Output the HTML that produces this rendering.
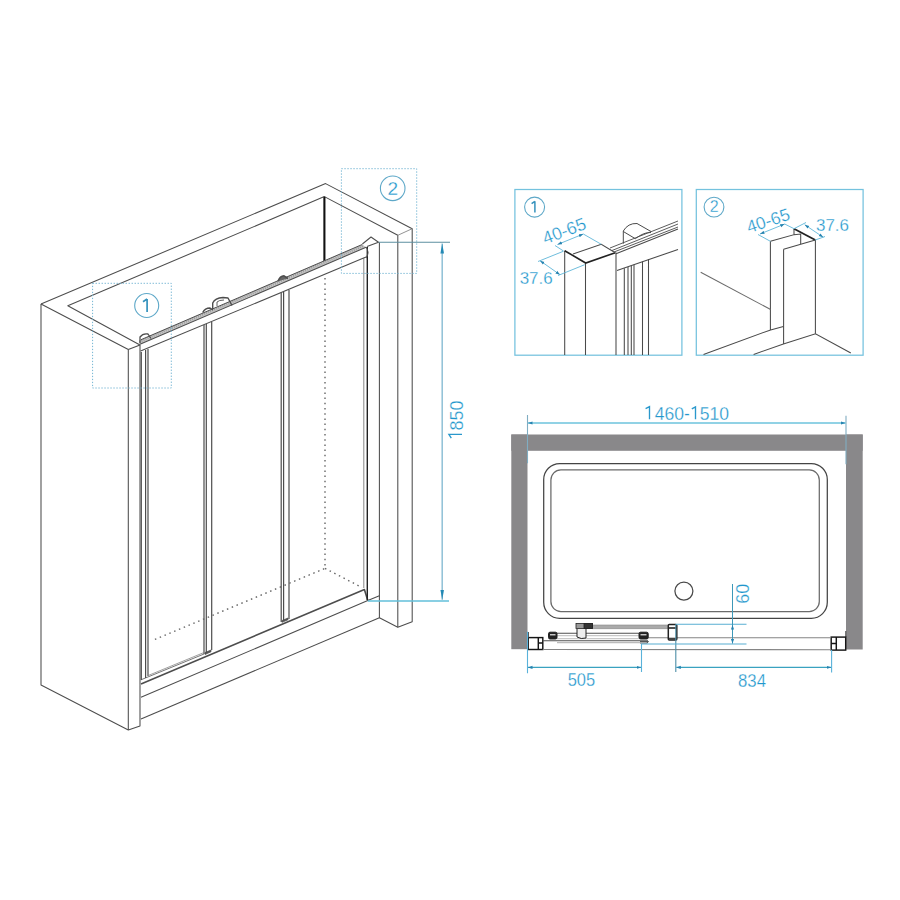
<!DOCTYPE html>
<html><head><meta charset="utf-8">
<style>
html,body{margin:0;padding:0;background:#fff;width:900px;height:900px;overflow:hidden}
svg{display:block}
text{font-family:"Liberation Sans",sans-serif;fill:#2196cc;stroke:#fff;stroke-width:0.28}
</style></head><body>
<svg width="900" height="900" viewBox="0 0 900 900">
<defs>
<marker id="ar" viewBox="0 0 10 10" refX="10" refY="5" markerWidth="10" markerHeight="10" markerUnits="userSpaceOnUse" orient="auto-start-reverse"><path d="M0,3.2 L10,5 L0,6.8 z" fill="#2389b5"/></marker>
<marker id="as" viewBox="0 0 10 10" refX="10" refY="5" markerWidth="4.5" markerHeight="4.5" markerUnits="userSpaceOnUse" orient="auto-start-reverse"><path d="M0,1.5 L10,5 L0,8.5 z" fill="#2683b0"/></marker>
</defs>

<!-- ========== 3D enclosure ========== -->
<g fill="none" stroke="#4d4d4d" stroke-width="1.05" stroke-linejoin="round">
  <!-- left wall -->
  <path d="M41,304 L41,685 L128.3,730 L140,726 L140,345"/>
  <path d="M41,304 L128.3,349.5 L128.3,730"/>
  <path d="M128.3,349.5 L140,345"/>
  <!-- top outer -->
  <path d="M41,304 L325.6,183.6 L412.2,228.7 L412.2,621.8 L397.8,627.2 L397.8,235.3"/>
  <path d="M397.8,235.3 L412.2,228.7" stroke-width="0.8" stroke="#777"/>
  <!-- inner top -->
  <path d="M140,345 L67.8,305.8 L324.4,196.6 L397.8,235.3"/>
  <path d="M324.4,196.8 L324.4,262.5" stroke="#111" stroke-width="2.1"/>
  <!-- right wall inner face -->
  <path d="M379.4,242.3 L379.4,617.8 L397.8,627.2"/>
  <!-- tray -->
  <path d="M141,718.9 L379.4,617.8"/>
  <path d="M141,697.2 L367.8,600.6 L379.4,595.8"/>
  <path d="M141,684 L364.4,589.5 L367.8,600.6" stroke-width="1.6"/>
  <path d="M141,679.8 L204,654" stroke-width="0.9" stroke="#666"/>
  <!-- door profiles -->
  <path d="M141.3,352 L141.3,680 M145.6,350 L145.6,678 M148,349 L148,676" stroke-width="1.2"/>
  <path d="M204,325 L204,654 M206.3,324 L206.3,653 M211.7,322 L211.7,650" stroke-width="1.2"/>
  <path d="M281.2,293 L281.2,622 M283.6,292 L283.6,621 M289,290 L289,619" stroke-width="1.2"/>
  <path d="M363.8,258 L363.8,588" stroke-width="1" stroke="#888"/>
  <path d="M367.3,247 L367.3,600" stroke-width="1.4" stroke="#222"/>
  <!-- panel bottoms -->
  <path d="M148,675.6 L204,652.5" stroke-width="0.8" stroke="#888"/>
  <path d="M205,654.5 L205,652.5 L211,650 L211,651.8 Z M282,622.3 L282,620.5 L288,618 L288,619.8 Z" fill="#555" stroke-width="0.7"/>
  <!-- rail -->
  <path d="M139,340.5 L362.2,244.5 L366.1,247.2 L139.4,344.5 Z" fill="#c4c4c4" stroke="none"/>
  <path d="M139.5,341.8 L364,245.5" stroke-width="2.2" stroke="#999" stroke-dasharray="0.8,1.4"/>
  <path d="M139.4,344.5 L366.1,247.2"/>
  <path d="M140.6,351.1 L366,257.1"/>
  <path d="M141,339.7 L362.2,244.5" stroke-width="1"/>
  <path d="M366,247 Q370,252 366,258" />
  <path d="M362.4,244 L371,237 L378.5,242.3 L367,246.5" />
  <!-- rollers -->
  <path d="M140,343 L140,337 Q143,333 148,334 L151,338.5" stroke-width="1.3"/>
  <path d="M202.7,312.5 Q205,308 210,308 L213,310" stroke-width="1.5"/>
  <path d="M212.7,309 L212.7,303 Q215,298 223,297.5 L228,298 L232,305.5" stroke-width="1.4"/>
  <path d="M217,306 L217,302 Q219,300 224,300" stroke-width="0.9"/>
  <path d="M278,281.3 Q280,276 284,275.8 L288,278.5" stroke-width="1.6" fill="#666"/>
  <!-- dotted back -->
  <path d="M325,278 L325,568.4 L152,640.6 M325,568.4 L362,587.5" stroke="#666" stroke-width="1.4" stroke-dasharray="1.5,3.7"/>
</g>

<!-- dotted blue boxes -->
<g fill="none" stroke="#72b4d2" stroke-width="1" stroke-dasharray="1.3,1.7">
  <rect x="92.6" y="283.3" width="78.7" height="104.7"/>
  <rect x="341.4" y="168.7" width="75.3" height="104.7"/>
</g>
<g fill="none" stroke="#5ea8c8" stroke-width="1.1">
  <circle cx="146.7" cy="305.5" r="12"/>
  <circle cx="392.7" cy="188.3" r="12.3"/>
  <path d="M147.1,299 L147.1,312 M143,301.8 L147.1,299" stroke="#3592bd" stroke-width="1.7"/>
</g>
<text x="392.7" y="195.3" font-size="19" text-anchor="middle">2</text>

<!-- 1850 dim -->
<g fill="none" stroke-width="1.1">
  <path d="M378.8,242.3 L450,242.3" stroke="#5d8fa0"/>
  <path d="M367.8,601 L449,601" stroke="#62bfda" stroke-width="1.35"/>
  <path d="M442.2,243.5 L442.2,599.8" stroke="#8fc0d6" stroke-width="1.5" marker-start="url(#ar)" marker-end="url(#ar)"/>
</g>
<path d="M462,434.4 L448.9,434.4 L451.3,438.2" fill="none" stroke="#2a98cc" stroke-width="1.35"/>
<text id="t1850" transform="translate(463,420.5) rotate(-90)" font-size="18" text-anchor="middle">&#x2007;850</text>

<!-- ========== detail box 1 ========== -->
<rect x="514.9" y="189.5" width="167" height="165.7" fill="none" stroke="#74c2de" stroke-width="1.25"/>
<circle cx="534.6" cy="207.1" r="10" fill="none" stroke="#5ea8c8" stroke-width="1.1"/>
<path d="M534.9,201.3 L534.9,212.6 M531.6,203.6 L534.9,201.3" fill="none" stroke="#3592bd" stroke-width="1.5"/>
<g fill="none" stroke="#4a4a4a" stroke-width="1.05">
  <path d="M564.7,250.7 L564.7,355 M585.5,262.7 L585.5,355 M616,252.5 L616,355"/>
  <path d="M564.7,250.7 L585.7,263 L615.3,252.7" stroke-width="1.6" stroke="#222"/>
  <path d="M573,254 L601.3,244.3 L615.3,252.7"/>
  <path d="M616,253.7 L678,229 M617,270.5 L678,249.5"/>
  <path d="M610,248 L678,221 M612,250.5 L678,224 M614,252 L678,227" stroke-width="0.9"/>
  <path d="M623.3,243.7 L623.3,231 Q628,223 637,223.5 L651,231.5 M623.3,231.5 L635.3,238.7 Q644,232 651,232.5" stroke-width="1"/>
    <path d="M624.3,268.3 L624.3,355 M628,267 L628,355 M631.3,265.8 L631.3,355 M634,264.8 L634,355 M642.5,261.5 L642.5,355 M648.5,259 L648.5,355"/>
</g>
<g fill="none" stroke="#5fb6d8" stroke-width="0.9">
  <path d="M557.5,244.5 L583.3,234" marker-start="url(#as)" marker-end="url(#as)"/>
  <path d="M555,245.5 L563.5,251 M583.3,234 L601.3,244.3"/>
  <path d="M540,260.7 L560,274.7" marker-start="url(#as)" marker-end="url(#as)"/>
  <path d="M538,261.5 L563.3,251.3 M558,275.5 L584.7,264.7"/>
</g>
<text transform="translate(566.3,236.5) rotate(-20.5)" font-size="17.6" text-anchor="middle">40-65</text>
<text x="536.2" y="284.3" font-size="17" text-anchor="middle">37.6</text>

<!-- ========== detail box 2 ========== -->
<rect x="696.3" y="189.5" width="166.8" height="165.7" fill="none" stroke="#74c2de" stroke-width="1.25"/>
<circle cx="714" cy="207.1" r="9.9" fill="none" stroke="#5ea8c8" stroke-width="1.1"/>
<text x="714.3" y="212.3" font-size="16" text-anchor="middle">2</text>
<g fill="none" stroke="#4a4a4a" stroke-width="1.05">
  <path d="M770.4,241.3 L770.4,329.9 M815.4,240 L815.4,333.7 M783.6,249.3 L783.6,344"/>
  <path d="M770.4,241.3 L794,234.7 L794,228.7 M794,234.7 L800.7,234 L800.7,244"/>
  <path d="M794,228.7 L815.3,240" stroke-width="1.8" stroke="#222"/>
  <path d="M783.6,249.3 L815.3,240"/>
  <path d="M700.7,272.3 L770.6,309.5" stroke="#6a6a6a"/>
  <path d="M703.5,354.4 L770.6,329.9 L783.4,326.5"/>
  <path d="M753.6,354.4 L783.4,344 L815.5,333.7 L850.8,353"/>
</g>
<g fill="none" stroke="#5fb6d8" stroke-width="0.9">
  <path d="M760,234 L784.7,224" marker-start="url(#as)" marker-end="url(#as)"/>
  <path d="M758,234.5 L770.4,241.3 M784.7,224 L794,228.7"/>
  <path d="M804.7,224.7 L823.3,237.3" marker-start="url(#as)" marker-end="url(#as)"/>
  <path d="M794,228.7 L806,222.5 M815.3,240 L825,236.5"/>
</g>
<text transform="translate(770,226.3) rotate(-18.4)" font-size="17.4" text-anchor="middle">40-65</text>
<text x="832.5" y="230.7" font-size="17" text-anchor="middle">37.6</text>

<!-- ========== plan view ========== -->
<g fill="#89888a">
  <rect x="511.3" y="434.5" width="16.2" height="214.7"/>
  <rect x="511.3" y="434.5" width="351.4" height="16.3"/>
  <rect x="846" y="434.5" width="16.7" height="215"/>
</g>
<g fill="none" stroke="#4a4a4a" stroke-width="1.25">
  <rect x="543.7" y="463.5" width="283.6" height="154.8" rx="16" ry="16" stroke="#444"/>
  <rect x="550.9" y="469.9" width="268.4" height="141.6" rx="10" ry="10" stroke="#6a6a6a"/>
  <circle cx="683.9" cy="591.1" r="9"/>
</g>
<g fill="none" stroke="#151515" stroke-width="1.45">
  <rect x="528.2" y="637.6" width="14.6" height="11.9"/>
  <path d="M845.8,631 L845.8,637 M528.4,632 L528.4,637.6" stroke="#555" stroke-width="1.2"/>
  <path d="M538.3,637.6 L538.3,649.5 M538.3,642.9 L542.8,642.9"/>
  <rect x="831.2" y="637.1" width="14.5" height="13"/>
  <path d="M836.3,637.1 L836.3,650.1 M831.2,643.5 L836.3,643.5"/>
</g>
<g fill="none" stroke="#666" stroke-width="1.1">
  <path d="M542.8,649.5 L831.2,649.7" stroke="#858585"/>
  <path d="M640,637.8 L831.2,637.8" stroke="#858585"/>
  <path d="M552,633.3 L644,633.3 M542.8,640.8 L648,640.8" stroke="#505050"/>
  <path d="M557,642.6 L640,642.6" stroke="#bbb" stroke-width="1.2"/>
  <path d="M557,635.7 L638.8,635.7 M557,638.7 L638.8,638.7" stroke="#aaa" stroke-width="0.8"/>
</g>
<rect x="592.6" y="625" width="76" height="3.8" fill="#aaa" stroke="#888" stroke-width="0.6"/>
<g fill="#222" stroke="#222">
  <rect x="548.5" y="632.2" width="8.5" height="6.8" rx="1.5" fill="#222" stroke-width="1"/>
  <path d="M550,634.8 L555.5,634.8" stroke="#fff" stroke-width="1.1"/>
  <rect x="639" y="632.2" width="9.2" height="6.8" rx="1.5" fill="#222" stroke-width="1"/>
  <path d="M640.5,634.8 L646.5,634.8" stroke="#fff" stroke-width="1.1"/>
  <rect x="576" y="623.5" width="16.5" height="5" fill="#999" stroke-width="0.8"/>
  <rect x="584" y="623.5" width="8.5" height="5" fill="#333" stroke-width="0.8"/>
  <path d="M577,629 L577,637 Q581,639.5 586,638 L586,629" fill="#eee" stroke-width="1"/>
  <rect x="668.3" y="624.6" width="8.5" height="15.5" rx="1" fill="#fff" stroke-width="1.5"/>
  <path d="M668.3,628 L676.8,628" stroke-width="1.6"/>
  <path d="M669,638.8 L676,638.8" stroke-width="2.2" stroke="#444"/>
  <path d="M640,641.5 L648,641.5 L647,643 L640,643" fill="none" stroke-width="1.2" stroke="#555"/>
</g>
<!-- plan dims -->
<g fill="none" stroke-width="1.1">
  <path d="M527.5,415 L527.5,463.3 M846,415.7 L846,464.3" stroke="#80adc2"/>
  <path d="M528,423 L845.5,423" stroke="#6cc3dc" stroke-width="1.5" marker-start="url(#as)" marker-end="url(#as)"/>
  <path d="M527.5,631.7 L527.5,673.3 M641.5,643.8 L641.5,672 M831.6,650 L831.6,672.5" stroke="#5ab2da"/>
  <path d="M675.8,624.2 L675.8,672" stroke="#4c8ea6"/>
  <path d="M528,667.4 L641,667.4" stroke="#3aa2c0" stroke-width="1.3" marker-start="url(#as)" marker-end="url(#as)"/>
  <path d="M676.3,667.4 L831.1,667.4" stroke="#3aa2c0" stroke-width="1.3" marker-start="url(#as)" marker-end="url(#as)"/>
  <path d="M675.8,624.2 L746.5,624.2 M641.5,644 L746.5,644" stroke="#58aed2"/>
  <path d="M732.5,584 L732.5,643.5" stroke="#3d98b8" stroke-width="1" marker-end="url(#as)"/>
  <path d="M732.5,632 L732.5,625" stroke="#3d98b8" stroke-width="1" marker-end="url(#as)"/>
</g>
<path d="M649.5,419.2 L649.5,406.7 L645.6,408.7 M695.5,419.2 L695.5,406.9 L691.8,408.8" fill="none" stroke="#2a98cc" stroke-width="1.35"/>
<text x="687" y="419.6" font-size="18" text-anchor="middle" textLength="84" lengthAdjust="spacingAndGlyphs" id="t1460">&#x2007;460-&#x2007;510</text>
<text x="581.4" y="685.7" font-size="18" text-anchor="middle" textLength="27.5" lengthAdjust="spacingAndGlyphs">505</text>
<text x="752" y="686.5" font-size="18" text-anchor="middle" textLength="28" lengthAdjust="spacingAndGlyphs">834</text>
<text transform="translate(749,593.8) rotate(-90)" font-size="18" text-anchor="middle">60</text>
</svg>
</body></html>
